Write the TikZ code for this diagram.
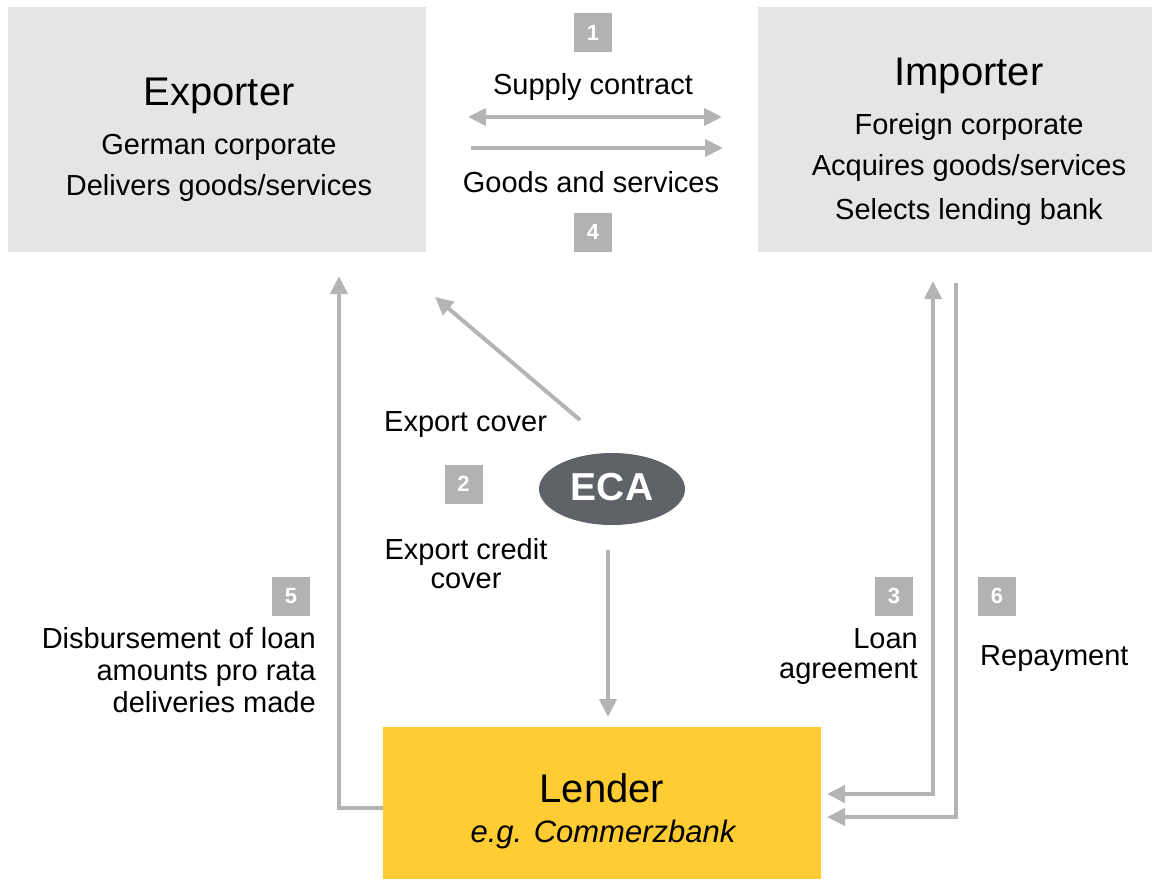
\documentclass[tikz,border=0pt]{standalone}
\usepackage{fontspec}
\setmainfont{Liberation Sans}
\usetikzlibrary{arrows.meta}
\usetikzlibrary{shapes.geometric}
\definecolor{boxgray}{HTML}{E5E5E5}
\definecolor{badgegray}{HTML}{B2B2B2}
\definecolor{flowgray}{HTML}{B4B4B4}
\definecolor{ecagray}{HTML}{5F6368}
\definecolor{lenderyellow}{HTML}{FFCC33}

\begin{document}
\begin{tikzpicture}[x=1pt, y=-1pt, >={Triangle[length=18pt,width=17pt]},
		flow/.style={draw=flowgray, line width=4pt},
		party/.style={fill=boxgray, inner sep=0pt},
		badge/.style={fill=badgegray, text=white, inner sep=0pt,
			minimum width=38pt, minimum height=39pt,
			font=\fontsize{22}{22}\selectfont\bfseries},
		txt/.style={inner sep=0pt, font=\fontsize{29}{29}\selectfont},
		big/.style={inner sep=0pt, font=\fontsize{40}{40}\selectfont}]
			\useasboundingbox (0,0) rectangle (1160,880);
			% boxes
			\node[party, minimum width=418pt, minimum height=245pt] (exporter) at (217,129.5) {};
			\node[party, minimum width=394pt, minimum height=245pt] (importer) at (955,129.5) {};
			\node[fill=lenderyellow, inner sep=0pt, minimum width=438pt, minimum height=152pt] (lender) at (602,803) {};
			\node[ellipse, fill=ecagray, inner sep=0pt, minimum width=146pt, minimum height=72pt] (eca) at (612,489) {};
			\node[anchor=base, inner sep=0pt, text=white, font=\fontsize{39}{39}\selectfont\bfseries] (ecatext) at (612,500) {ECA};
			% texts in boxes
			\node[big, anchor=base] (exptitle) at (219,106) {Exporter};
			\node[txt, anchor=base] (exp1) at (219,155) {German corporate};
			\node[txt, anchor=base] (exp2) at (219,196) {Delivers goods/services};
			\node[big, anchor=base] (imptitle) at (969,86) {Importer};
			\node[txt, anchor=base] (imp1) at (969,135) {Foreign corporate};
			\node[txt, anchor=base] (imp2) at (969,176) {Acquires goods/services};
			\node[txt, anchor=base] (imp3) at (969,219) {Selects lending bank};
			\node[big, anchor=base] (lendtitle) at (602,802) {Lender};
			\node[txt, anchor=base, font=\fontsize{31}{31}\selectfont\itshape] (lend1) at (603,842) {e.g. Commerzbank};
			% step numbers
			\node[badge] (b1) at (593,33) {1};
			\node[badge] (b2) at (463.5,484) {2};
			\node[badge] (b3) at (894,596) {3};
			\node[badge] (b4) at (593,232) {4};
			\node[badge] (b5) at (291,596) {5};
			\node[badge] (b6) at (997,596) {6};
			% flow labels
			\node[txt, anchor=base] (supply) at (593,95) {Supply contract};
			\node[txt, anchor=base] (goods) at (591,193) {Goods and services};
			\node[txt, anchor=base west] (cover) at (384,431) {Export cover};
			\node[txt, anchor=base] (credit1) at (466,559) {Export credit};
			\node[txt, anchor=base] (credit2) at (466,588) {cover};
			\node[txt, anchor=base east] (loan1) at (918,648) {Loan};
			\node[txt, anchor=base east] (loan2) at (918,678) {agreement};
			\node[txt, anchor=base west] (repay) at (980,665) {Repayment};
			\node[txt, anchor=base east] (disb1) at (316,648) {Disbursement of loan};
			\node[txt, anchor=base east] (disb2) at (316,680) {amounts pro rata};
			\node[txt, anchor=base east] (disb3) at (316,712) {deliveries made};
			% arrow ends
			\coordinate (sc-l) at (468,117);
			\coordinate (sc-r) at (722,117);
			\coordinate (gs-l) at (471,148);
			\coordinate (gs-r) at (723,148);
			\coordinate (ec-from) at (580,420);
			\coordinate (ec-to) at (435,297);
			\coordinate (cr-from) at (608,550);
			\coordinate (cr-to) at (608,717);
			\coordinate (d5) at (339,808);
			\coordinate (d5-to) at (339,276);
			\coordinate (la) at (933,794);
			\coordinate (la-to) at (933,281);
			\coordinate (la-end) at (827,794);
			\coordinate (rp-from) at (956,283);
			\coordinate (rp) at (956,817);
			\coordinate (rp-end) at (827,817);
			% arrows
			\draw[flow, <->] (sc-l) -- (sc-r);
			\draw[flow, ->] (gs-l) -- (gs-r);
			\draw[flow, ->] (ec-from) -- (ec-to);
			\draw[flow, ->] (cr-from) -- (cr-to);
			\draw[flow, ->] (lender.west |- d5) -- (d5) -- (d5-to);
			\draw[flow, <->] (la-end) -- (la) -- (la-to);
			\draw[flow, ->] (rp-from) -- (rp) -- (rp-end);
		\end{tikzpicture}
\end{document}
